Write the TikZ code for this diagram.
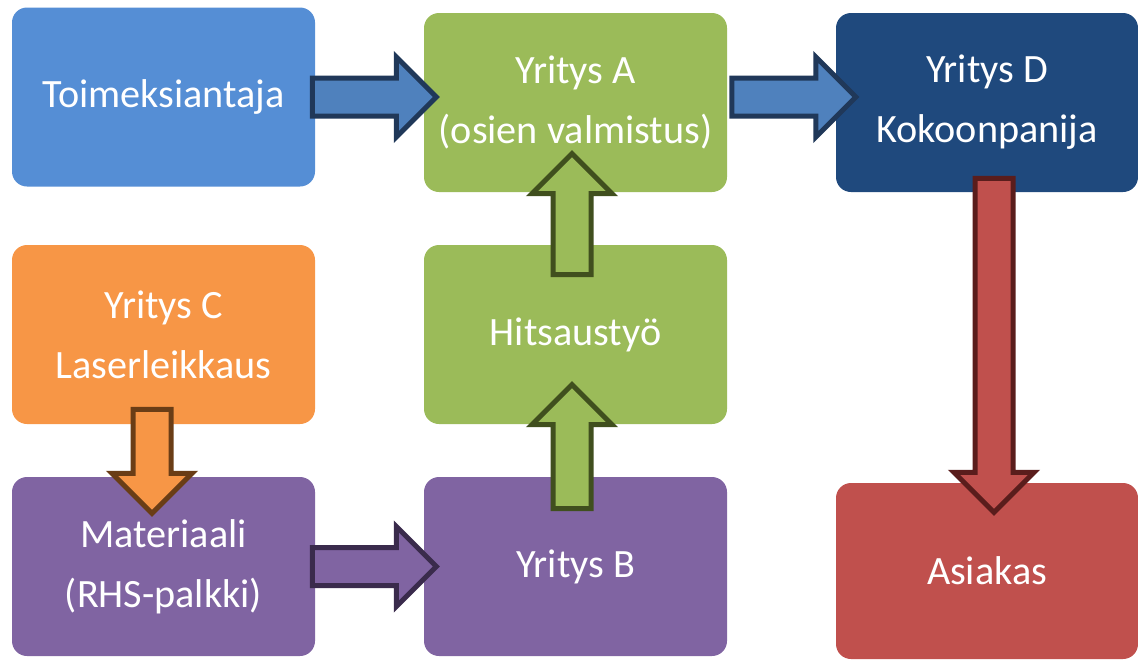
\documentclass[tikz,border=0pt]{standalone}
\usepackage{fontspec}
\setmainfont{Carlito}
\usetikzlibrary{shapes.arrows}
\definecolor{boxblue}{HTML}{558ED5}
\definecolor{boxgreen}{HTML}{9BBB59}
\definecolor{boxnavy}{HTML}{1F497D}
\definecolor{boxorange}{HTML}{F79646}
\definecolor{boxpurple}{HTML}{8064A2}
\definecolor{boxred}{HTML}{C0504D}
\definecolor{arrblue}{HTML}{4F81BD}
\definecolor{arrbluedark}{HTML}{203859}
\definecolor{arrgreendark}{HTML}{404F1E}
\definecolor{arrorangedark}{HTML}{6A3D16}
\definecolor{arrpurpledark}{HTML}{3A2B4C}
\definecolor{arrreddark}{HTML}{5A1D1C}

\begin{document}
\begin{tikzpicture}[x=0.5pt,y=-0.5pt,font=\fontsize{20.1}{30}\selectfont,
    box/.style={rounded corners=7.5pt,minimum width=151.5pt,minimum height=89.5pt,inner sep=0pt,text=white,align=center},
    blockarrow/.style={single arrow,line width=2.5pt,inner xsep=0pt,inner ysep=8.25pt,single arrow head extend=10.5pt,minimum height=62pt,anchor=tail}]
    \useasboundingbox (0,0) rectangle (1138,659);
    % boxes
    \node[box,fill=boxblue] (toim) at (163.5,97) {Toimeksiantaja};
    \node[box,fill=boxgreen] (yrA) at (575.5,102.5) {Yritys A\\(osien valmistus)};
    \node[box,fill=boxnavy,minimum width=151pt] (yrD) at (987,102.5) {Yritys D\\Kokoonpanija};
    \node[box,fill=boxorange] (yrC) at (163.5,334.5) {Yritys C\\Laserleikkaus};
    \node[box,fill=boxgreen] (hits) at (575.5,334.5) {Hitsaustyö};
    \node[box,fill=boxpurple] (mat) at (163.5,566.5) {Materiaali\\(RHS-palkki)};
    \node[box,fill=boxpurple] (yrB) at (575.5,566.5) {Yritys B};
    \node[box,fill=boxred,minimum width=151pt,minimum height=88pt] (asi) at (987,571) {Asiakas};
    % block arrows
    \node[blockarrow,fill=arrblue,draw=arrbluedark] (toimA) at ([xshift=-2.75pt]toim.east) {};
    \node[blockarrow,fill=arrblue,draw=arrbluedark] (AD) at ([xshift=1pt,yshift=2.75pt]yrA.east) {};
    \node[blockarrow,fill=boxpurple,draw=arrpurpledark] (matB) at ([xshift=-2.75pt]mat.east) {};
    \node[blockarrow,fill=boxgreen,draw=arrgreendark,rotate=90] (Bhits) at ([xshift=-1.75pt,yshift=-17.25pt]yrB.north) {};
    \node[blockarrow,fill=boxgreen,draw=arrgreendark,rotate=90,minimum height=60.5pt] (hitsA) at ([xshift=-1.75pt,yshift=-16.25pt]hits.north) {};
    \node[blockarrow,fill=boxorange,draw=arrorangedark,rotate=-90,minimum height=52pt] (Cmat) at ([xshift=-5.75pt,yshift=8.75pt]yrC.south) {};
    \node[blockarrow,fill=boxred,draw=arrreddark,rotate=-90,minimum height=167pt] (Dasi) at ([xshift=3.5pt,yshift=8.25pt]yrD.south) {};
\end{tikzpicture}
\end{document}
